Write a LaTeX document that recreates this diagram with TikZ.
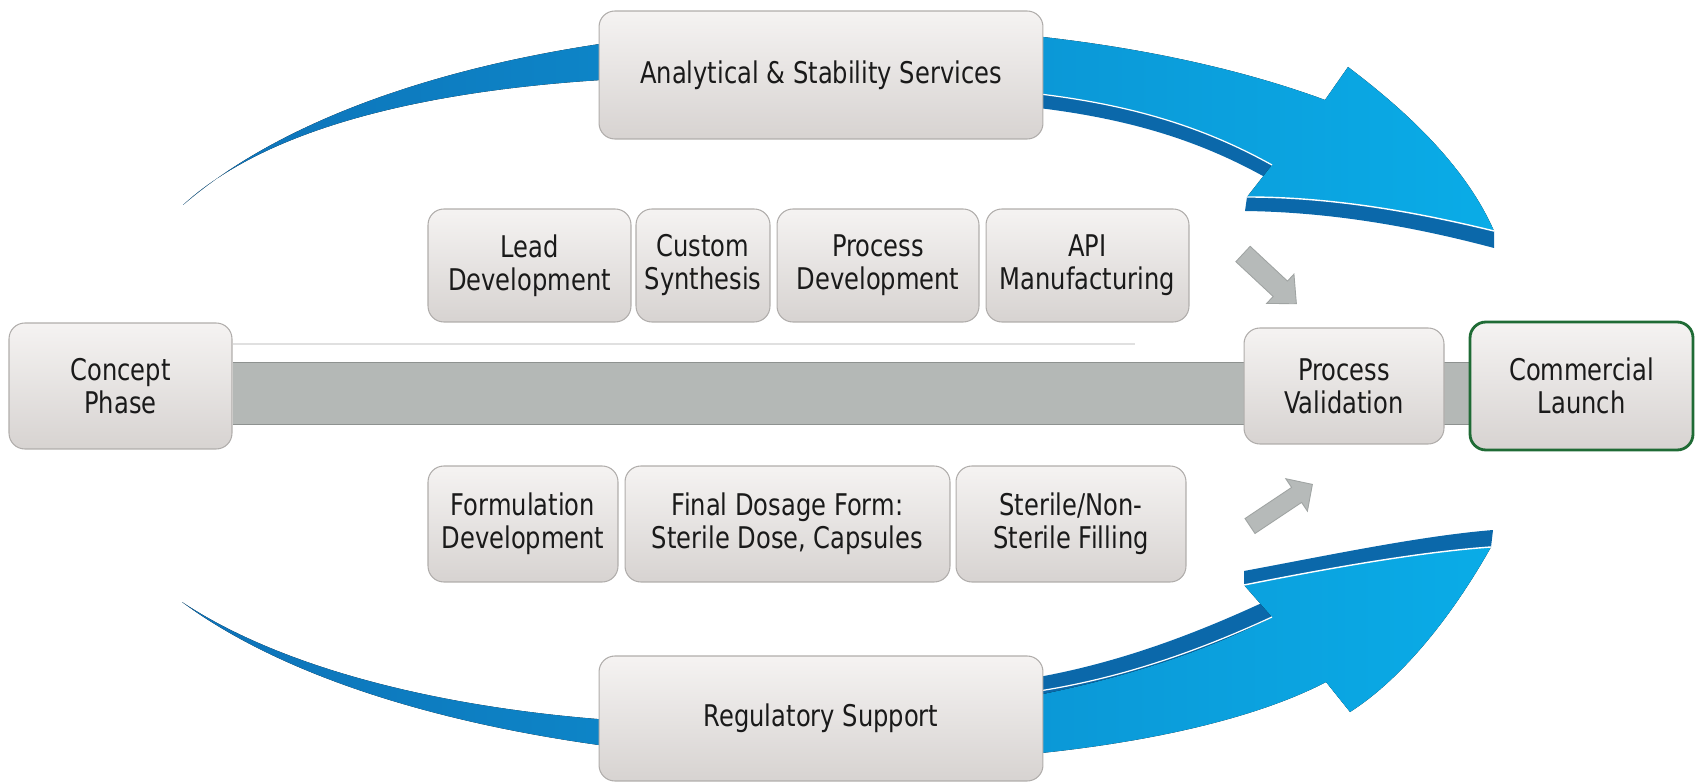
\documentclass[tikz,border=0pt]{standalone}
\usepackage{fontspec}
\setmainfont{DejaVu Sans}[FakeStretch=0.81]
\usepackage{tikz}
\usepackage{xcolor}
\usetikzlibrary{backgrounds}

\definecolor{boxtop}{HTML}{F5F3F2}
\definecolor{boxbot}{HTML}{D7D3D1}
\definecolor{boxedge}{HTML}{B0ADAB}
\definecolor{txt}{HTML}{1A1A1A}
\definecolor{barfill}{HTML}{B4B8B6}
\definecolor{baredge}{HTML}{8E9290}
\definecolor{bluelight}{HTML}{0AACE7}
\definecolor{bluedark}{HTML}{0B68AA}
\definecolor{bluetail}{HTML}{0E72B8}
\definecolor{grayarrow}{HTML}{B6BAB9}
\definecolor{launchedge}{HTML}{1F6B35}

\begin{document}
\begin{tikzpicture}[x=0.02cm, y=-0.02cm,
  box/.style={draw=boxedge, line width=0.6pt, rounded corners=9pt, top color=boxtop, bottom color=boxbot,
    align=center, text=txt, font=\fontsize{17}{18.8}\selectfont, inner sep=2pt},
  barra/.style={draw=baredge, line width=0.7pt, double=barfill, double distance=1.22cm},
  flecha/.style={left color=bluetail, middle color=bluelight, right color=bluelight},
  flechita/.style={fill=grayarrow, draw=grayarrow!88!black, line width=0.5pt}]
\useasboundingbox (0,0) rectangle (1700,783);

% Flecha superior
\draw[bluedark, line width=0.56cm] (1000,90) .. controls (1120,100) and (1200,125) .. (1272,165);
\fill[bluedark] (1247,197) .. controls (1320,197) and (1400,208) .. (1494,231) -- (1494,248)
  .. controls (1400,223) and (1320,212) .. (1245,211) -- cycle;
\fill[flecha] (183,205) .. controls (420,0) and (1000,-20) .. (1325,100) -- (1348,67)
  .. controls (1405,110) and (1465,165) .. (1494,231)
  .. controls (1400,208) and (1320,197) .. (1247,197) -- (1272,165)
  .. controls (1200,125) and (1120,100) .. (1000,90)
  .. controls (700,60) and (330,70) .. (183,205) -- cycle;
\draw[white, line width=0.8pt] (1494,231) .. controls (1400,208) and (1320,197) .. (1247,197);
\draw[white, line width=0.7pt] (1272,165) .. controls (1200,125) and (1120,100) .. (1000,90);

% Flecha inferior
\draw[bluedark, line width=0.68cm] (1000,700) .. controls (1100,688) and (1190,655) .. (1272,617);
\fill[bluedark] (1244,585) .. controls (1330,568) and (1420,552) .. (1491,547) -- (1493,530)
  .. controls (1420,536) and (1330,555) .. (1244,571) -- cycle;
\fill[flecha] (182,602) .. controls (420,760) and (990,765) .. (1272,617) -- (1244,585)
  .. controls (1330,568) and (1420,552) .. (1491,547)
  .. controls (1450,620) and (1400,680) .. (1350,712) -- (1326,682)
  .. controls (1100,800) and (450,800) .. (182,602) -- cycle;
\draw[white, line width=0.8pt] (1244,585) .. controls (1330,568) and (1420,552) .. (1491,547);
\draw[white, line width=0.7pt] (1000,696) .. controls (1100,686) and (1190,655) .. (1272,617);

% Cajas
\node[box, minimum width=8.88cm, minimum height=2.56cm] (analytical) at (821,75) {Analytical \& Stability Services};
\node[box, minimum width=4.06cm, minimum height=2.26cm] (lead) at (529.5,265.5) {Lead\\Development};
\node[box, minimum width=2.68cm, minimum height=2.26cm] (custom) at (703,265.5) {Custom\\Synthesis};
\node[box, minimum width=4.04cm, minimum height=2.26cm] (procdev) at (878,265.5) {Process\\Development};
\node[box, minimum width=4.06cm, minimum height=2.26cm] (api) at (1087.5,265.5) {API\\Manufacturing};
\node[box, minimum width=4.46cm, minimum height=2.52cm] (concept) at (120.5,386) {Concept\\Phase};
\node[box, minimum width=4.0cm, minimum height=2.32cm] (validation) at (1344,386) {Process\\Validation};
\node[box, draw=launchedge, line width=1.6pt, minimum width=4.46cm, minimum height=2.56cm] (launch) at (1581.5,386) {Commercial\\Launch};
\node[box, minimum width=3.8cm, minimum height=2.32cm] (formulation) at (523,524) {Formulation\\Development};
\node[box, minimum width=6.5cm, minimum height=2.32cm] (dosage) at (787.5,524) {Final Dosage Form:\\Sterile Dose, Capsules};
\node[box, minimum width=4.6cm, minimum height=2.32cm] (filling) at (1071,524) {Sterile/Non-\\Sterile Filling};
\node[box, minimum width=8.88cm, minimum height=2.5cm] (regulatory) at (821,718.5) {Regulatory Support};

% Barra central
\begin{scope}[on background layer]
\draw[barra] ([yshift=-0.15cm]concept.east) -- ([yshift=-0.15cm]launch.west);
\end{scope}
\draw[white!88!black, line width=1.2pt] (233,344) -- (1135,344);

% Flechas grises
\filldraw[flechita, shift={(1243,254)}, rotate=-43] (0,-10.5) -- (51,-10.5) -- (51,-20) -- (73,0) -- (51,20) -- (51,10.5) -- (0,10.5) -- cycle;
\filldraw[flechita, shift={(1250,526)}, rotate=33.7] (0,-9) -- (56,-9) -- (56,-19.5) -- (75,0) -- (56,19.5) -- (56,9) -- (0,9) -- cycle;
\end{tikzpicture}
\end{document}
